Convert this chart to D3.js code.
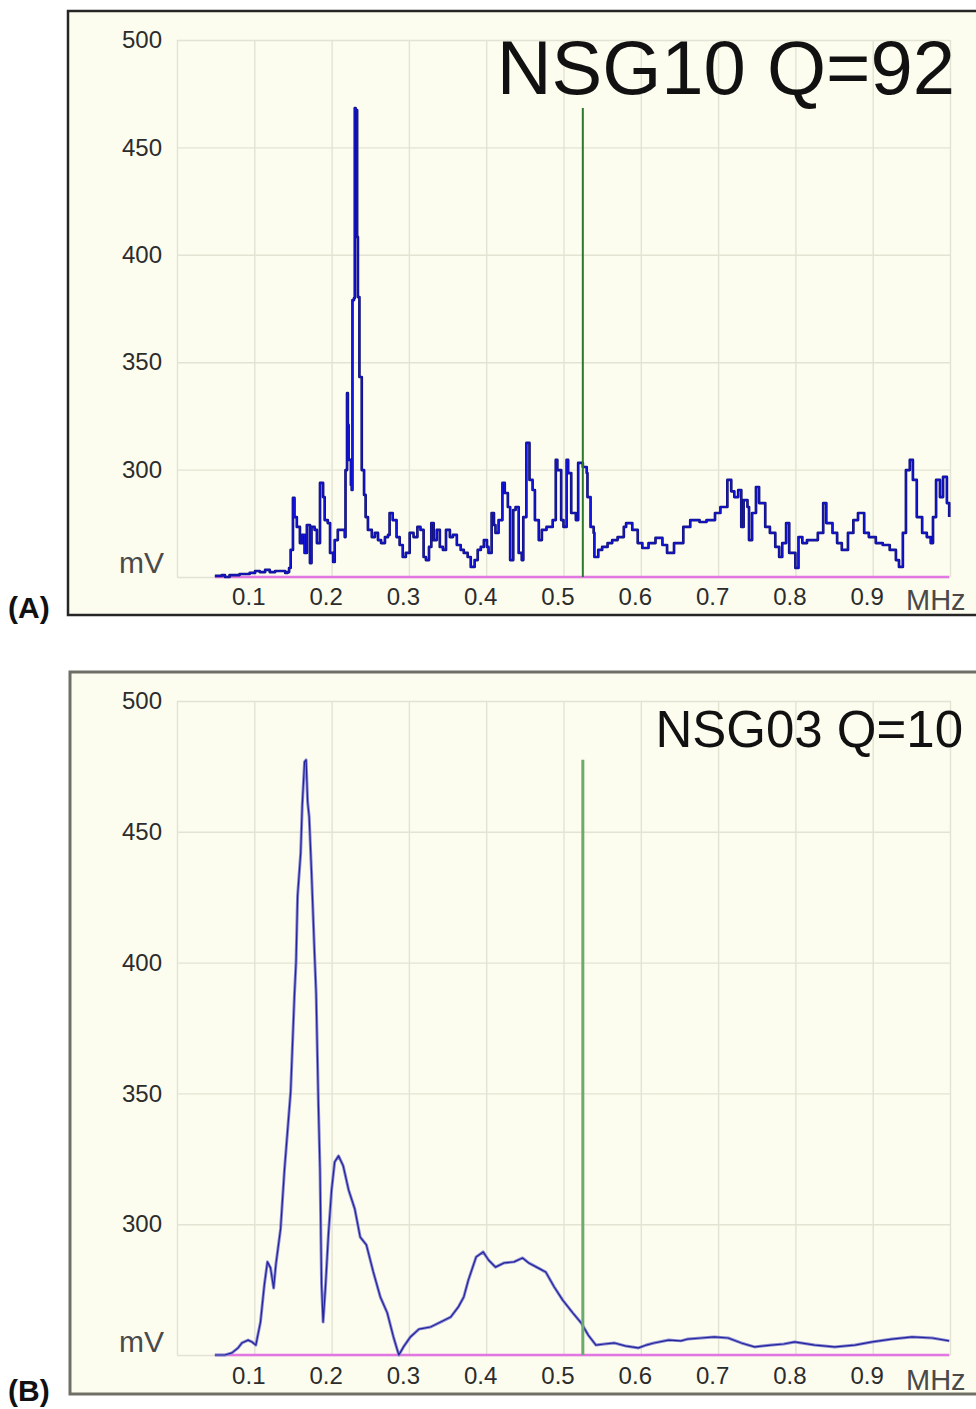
<!DOCTYPE html>
<html>
<head>
<meta charset="utf-8">
<script src="https://cdn.jsdelivr.net/npm/d3@7"></script>
<style>
  body { margin: 0; background: #ffffff; }
  svg { display: block; }
</style>
</head>
<body>
<svg id="chart" width="976" height="1409"></svg>
<script>
// ---- Spectrum A: NSG10, frequency (MHz) and amplitude (mV) ----
const freqA = [
  0.049,0.058,0.062,0.068,0.081,0.094,0.101,0.107,0.114,0.120,
  0.127,0.133,0.140,0.143,0.145,0.147,0.150,0.152,0.155,0.159,
  0.162,0.165,0.168,0.172,0.174,0.178,0.181,0.185,0.189,0.191,
  0.195,0.198,0.202,0.204,0.208,0.212,0.217,0.218,0.220,0.221,
  0.222,0.225,0.226,0.227,0.229,0.230,0.231,0.233,0.234,0.236,
  0.239,0.242,0.244,0.247,0.252,0.256,0.260,0.264,0.269,0.273,
  0.275,0.279,0.284,0.288,0.292,0.296,0.301,0.306,0.311,0.315,
  0.319,0.322,0.326,0.329,0.332,0.336,0.340,0.344,0.348,0.353,
  0.357,0.362,0.367,0.371,0.376,0.380,0.385,0.389,0.393,0.397,
  0.401,0.403,0.407,0.410,0.412,0.416,0.421,0.424,0.428,0.431,
  0.435,0.438,0.442,0.446,0.448,0.452,0.456,0.460,0.463,0.468,
  0.472,0.478,0.486,0.490,0.492,0.497,0.500,0.504,0.506,0.510,
  0.516,0.519,0.525,0.530,0.531,0.535,0.539,0.540,0.545,0.550,
  0.557,0.563,0.570,0.578,0.581,0.589,0.596,0.602,0.610,0.619,
  0.628,0.634,0.643,0.655,0.664,0.676,0.685,0.696,0.703,0.712,
  0.717,0.721,0.726,0.730,0.733,0.738,0.740,0.744,0.749,0.753,
  0.761,0.767,0.774,0.779,0.783,0.788,0.792,0.800,0.804,0.809,
  0.815,0.822,0.829,0.836,0.840,0.848,0.854,0.860,0.868,0.875,
  0.881,0.889,0.895,0.904,0.913,0.922,0.930,0.934,0.939,0.943,
  0.948,0.952,0.957,0.964,0.970,0.975,0.978,0.982,0.987,0.991,
  0.996,0.999
];
const mvA = [
  250.5,250.9,250.0,250.9,251.4,251.9,252.8,252.3,253.3,252.3,
  252.8,252.8,251.9,252.3,254.2,262.6,286.8,277.9,273.3,265.8,
  269.6,261.2,274.2,256.5,273.3,271.9,265.8,293.8,287.2,276.5,
  275.1,261.2,257.0,267.2,271.9,271.9,268.6,299.8,335.6,320.8,
  304.5,292.8,290.5,378.9,379.9,468.3,467.4,408.3,380.3,343.1,
  299.8,288.2,277.9,271.9,268.6,270.5,267.2,265.8,268.6,269.6,
  279.8,276.5,268.6,264.9,259.3,261.2,270.5,268.6,273.3,271.9,
  259.3,257.9,264.0,275.1,267.2,271.9,264.0,262.6,271.9,268.6,
  269.6,264.9,262.6,261.2,259.3,254.7,257.9,262.6,264.0,267.2,
  264.0,261.2,279.8,274.2,270.5,276.5,293.8,289.1,282.6,257.9,
  281.2,282.6,261.2,257.9,277.9,312.4,295.2,290.5,276.5,267.2,
  271.9,273.3,276.5,304.5,299.8,276.5,273.3,304.5,298.4,279.8,
  276.5,303.1,301.2,298.4,287.2,273.3,270.5,259.3,262.6,264.0,
  265.8,267.2,268.6,273.3,275.1,271.9,265.8,263.5,265.8,268.2,
  264.9,261.2,265.8,273.3,276.5,275.6,276.5,279.8,282.6,295.2,
  289.9,287.2,290.5,273.3,285.8,282.6,267.2,279.8,291.9,284.4,
  273.3,270.5,264.0,259.3,265.8,275.1,261.2,254.2,268.6,265.8,
  267.2,267.2,270.5,284.4,275.1,270.5,265.8,262.6,270.5,276.5,
  279.8,270.5,268.6,265.8,264.9,262.6,257.9,254.7,270.5,299.8,
  304.5,295.2,277.9,270.5,268.6,265.8,277.9,295.2,287.2,296.6,
  284.4,277.9
];

// ---- Spectrum B: NSG03, frequency (MHz) and amplitude (mV) ----
const freqB = [
  0.049,0.062,0.071,0.079,0.084,0.092,0.097,0.102,0.108,0.113,
  0.117,0.121,0.125,0.128,0.134,0.139,0.143,0.147,0.149,0.152,
  0.154,0.156,0.160,0.162,0.165,0.167,0.169,0.171,0.174,0.178,
  0.180,0.183,0.185,0.187,0.189,0.192,0.196,0.200,0.204,0.209,
  0.215,0.222,0.230,0.237,0.245,0.254,0.263,0.272,0.280,0.287,
  0.293,0.302,0.313,0.328,0.341,0.354,0.364,0.371,0.377,0.387,
  0.396,0.403,0.412,0.423,0.436,0.447,0.455,0.467,0.477,0.488,
  0.499,0.512,0.523,0.532,0.542,0.553,0.566,0.581,0.597,0.607,
  0.617,0.636,0.652,0.661,0.678,0.695,0.713,0.730,0.747,0.769,
  0.785,0.799,0.825,0.851,0.877,0.899,0.925,0.951,0.977,0.999
];
const mvB = [
  250.0,250.0,250.8,252.7,254.6,255.7,255.0,253.8,262.6,276.8,
  285.6,283.3,275.6,284.8,298.2,320.7,335.6,350.5,365.5,388.0,
  400.2,425.5,441.9,459.9,476.7,477.5,461.4,455.7,434.7,402.9,
  388.0,344.8,320.7,277.1,262.6,275.6,296.6,313.1,323.8,326.1,
  322.3,313.1,305.8,295.1,292.1,281.7,272.2,266.1,256.9,250.0,
  253.1,256.9,259.9,260.7,262.6,264.5,268.4,272.2,278.7,287.5,
  289.4,286.3,283.6,285.2,285.6,287.1,285.2,283.3,281.7,276.0,
  271.0,266.1,262.2,257.6,253.8,254.2,254.6,253.4,252.7,253.8,
  254.6,255.7,255.4,256.1,256.5,256.9,256.5,254.6,253.1,253.8,
  254.2,255.0,253.8,253.1,253.8,255.0,256.1,256.9,256.5,255.4
];

// ---- Shared axis values ----
const markerFreq = 0.525;                  // cursor frequency, MHz
const mvDomain = [250, 500];
const mvGrid = [250, 300, 350, 400, 450, 500];
const mvLabels = [300, 350, 400, 450, 500];
const freqGrid = [0, 0.1, 0.2, 0.3, 0.4, 0.5, 0.6, 0.7, 0.8, 0.9, 1.0];
const freqLabels = [0.1, 0.2, 0.3, 0.4, 0.5, 0.6, 0.7, 0.8, 0.9];
const titleA = "NSG10 Q=92";
const titleB = "NSG03 Q=10";

const svg = d3.select("#chart");
const FONT = "'Liberation Sans', Arial, sans-serif";

const panels = [
  {
    freq: freqA, mv: mvA, title: titleA, tag: "(A)",
    frame: { x: 68, y: 11, w: 930, h: 604, stroke: "#262626", sw: 2.5 },
    top: 40, bottom: 577,
    titleSize: 76, titleX: 955, titleY: 94,
    tagY: 618, xPad: 11, mvY: 573, mhzY: 610,
    curve: d3.curveStepAfter,
    traceOuter: { c: "#12127a", w: 2.7 }, traceInner: { c: "#1414e0", w: 1.1 },
    marker: { c: "#2b7a2b", w: 2 }
  },
  {
    freq: freqB, mv: mvB, title: titleB, tag: "(B)",
    frame: { x: 70, y: 672, w: 930, h: 722, stroke: "#6f6f66", sw: 3 },
    top: 701, bottom: 1355,
    titleSize: 51, titleX: 963, titleY: 747,
    tagY: 1401, xPad: 12, mvY: 1352, mhzY: 1390,
    curve: d3.curveLinear,
    traceOuter: { c: "#8a8ad2", w: 3 }, traceInner: { c: "#23239c", w: 1.2 },
    marker: { c: "#6cab6c", w: 3 }
  }
];

panels.forEach(p => {
  const g = svg.append("g");
  const x = d3.scaleLinear().domain([0, 1]).range([177, 950]);
  const y = d3.scaleLinear().domain(mvDomain).range([p.bottom, p.top]);
  const [x0, x1] = x.range();

  // instrument window frame
  g.append("rect")
    .attr("x", p.frame.x).attr("y", p.frame.y)
    .attr("width", p.frame.w).attr("height", p.frame.h)
    .attr("fill", "#fdfdef")
    .attr("stroke", p.frame.stroke).attr("stroke-width", p.frame.sw);

  // grid
  const gx = g.append("g")
    .attr("transform", `translate(0,${p.bottom})`)
    .call(d3.axisBottom(x).tickValues(freqGrid).tickSize(-(p.bottom - p.top)).tickFormat(""));
  const gy = g.append("g")
    .attr("transform", `translate(${x0},0)`)
    .call(d3.axisLeft(y).tickValues(mvGrid).tickSize(-(x1 - x0)).tickFormat(""));
  [gx, gy].forEach(a => {
    a.select(".domain").remove();
    a.selectAll(".tick line").attr("stroke", "#e3e3d3").attr("stroke-width", 1.4);
  });

  // zero line under the trace
  const line = d3.line().x(d => x(d[0])).y(d => y(d[1]));
  g.append("path")
    .datum([[p.freq[0], mvDomain[0]], [p.freq[p.freq.length - 1], mvDomain[0]]])
    .attr("d", line)
    .attr("fill", "none").attr("stroke", "#e276e2").attr("stroke-width", 2.6);

  // spectrum trace
  const pts = p.freq.map((f, i) => [f, p.mv[i]]);
  const trace = d3.line().x(d => x(d[0])).y(d => y(d[1])).curve(p.curve);
  g.append("path").datum(pts).attr("d", trace)
    .attr("fill", "none").attr("stroke", p.traceOuter.c)
    .attr("stroke-width", p.traceOuter.w).attr("stroke-linejoin", "round");
  g.append("path").datum(pts).attr("d", trace)
    .attr("fill", "none").attr("stroke", p.traceInner.c)
    .attr("stroke-width", p.traceInner.w).attr("stroke-linejoin", "round");

  // cursor marker, as tall as the spectrum maximum
  g.append("path")
    .datum([[markerFreq, mvDomain[0]], [markerFreq, d3.max(p.mv)]])
    .attr("d", line)
    .attr("fill", "none").attr("stroke", p.marker.c).attr("stroke-width", p.marker.w);

  // tick labels
  const ay = g.append("g")
    .attr("transform", `translate(${x0},0)`)
    .call(d3.axisLeft(y).tickValues(mvLabels).tickSize(0).tickPadding(15));
  const ax = g.append("g")
    .attr("transform", `translate(0,${p.bottom})`)
    .call(d3.axisBottom(x).tickValues(freqLabels).tickSize(0).tickPadding(p.xPad)
      .tickFormat(d3.format(".1f")));
  [ax, ay].forEach(a => {
    a.select(".domain").remove();
    a.selectAll("text")
      .attr("font-family", FONT).attr("font-size", 24)
      .attr("fill", "#2c2c2c");
  });
  ax.selectAll("text").attr("dx", -6);

  // unit labels
  g.append("text").text("mV")
    .attr("x", 164).attr("y", p.mvY).attr("text-anchor", "end")
    .attr("font-family", FONT).attr("font-size", 30).attr("fill", "#4a4a4a");
  g.append("text").text("MHz")
    .attr("x", 906).attr("y", p.mhzY)
    .attr("font-family", FONT).attr("font-size", 29).attr("fill", "#4a4a4a");

  // sample title
  g.append("text").text(p.title)
    .attr("x", p.titleX).attr("y", p.titleY).attr("text-anchor", "end")
    .attr("font-family", FONT).attr("font-size", p.titleSize).attr("fill", "#111");

  // panel tag
  svg.append("text").text(p.tag)
    .attr("x", 8).attr("y", p.tagY)
    .attr("font-family", FONT).attr("font-weight", "bold")
    .attr("font-size", 30).attr("fill", "#111");
});
</script>
</body>
</html>
